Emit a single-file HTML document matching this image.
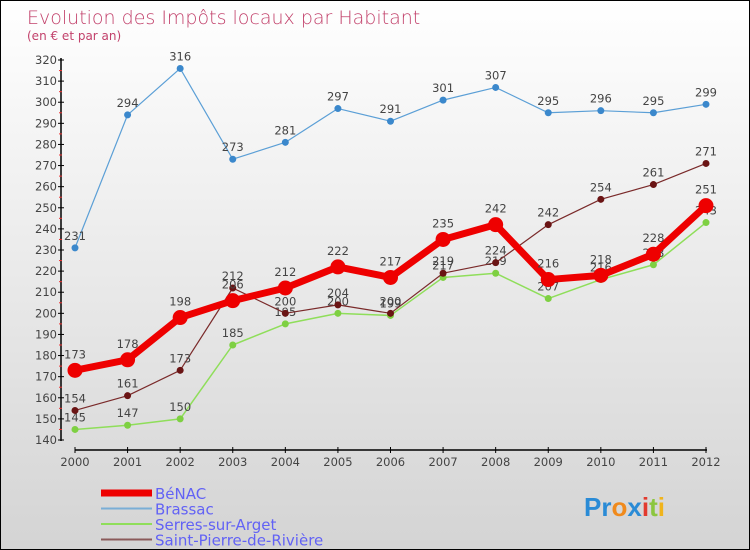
<!DOCTYPE html>
<html><head><meta charset="utf-8">
<style>
body{margin:0}
#c{position:relative;width:748px;height:548px;border:1px solid #000;background:linear-gradient(#ffffff,#d4d4d4);overflow:hidden;font-family:"DejaVu Sans","Liberation Sans",sans-serif}
</style></head><body>
<div id="c">
<svg id="s" width="748" height="548" xmlns="http://www.w3.org/2000/svg">
<text x="26" y="23" font-size="19" fill="#c2416b" font-weight="300">Evolution des Impôts locaux par Habitant</text>
<text x="26" y="39" font-size="12" fill="#c2416b">(en € et par an)</text>
<g id="axes"></g><g id="series"></g><g id="legend"></g>
<g font-size="26" font-weight="bold" font-family="Liberation Sans,sans-serif">
<text x="583" y="515"><tspan fill="#2a8bd6">Pr</tspan><tspan fill="#f08a1c">o</tspan><tspan fill="#2a8bd6">x</tspan><tspan fill="#e23a2e">i</tspan><tspan fill="#8cc63f">t</tspan><tspan fill="#f0b41c">i</tspan></text>
</g>
</svg>
</div>
<script>
const years=[2000,2001,2002,2003,2004,2005,2006,2007,2008,2009,2010,2011,2012];
const benac=[173,178,198,206,212,222,217,235,242,216,218,228,251];
const brassac=[231,294,316,273,281,297,291,301,307,295,296,295,299];
const serres=[145,147,150,185,195,200,199,217,219,207,216,223,243];
const stpierre=[154,161,173,212,200,204,200,219,224,242,254,261,271];
const yTicks=[140,150,160,170,180,190,200,210,220,230,240,250,260,270,280,290,300,310,320];
const NS="http://www.w3.org/2000/svg";
const X=i=>74+i*(705-74)/(years.length-1);
const Y=v=>439-(v-140)*(439-59)/(320-140);
function mk(tag,attrs,parent){const e=document.createElementNS(NS,tag);for(const k in attrs)e.setAttribute(k,attrs[k]);parent.appendChild(e);return e;}
const ax=document.getElementById('axes');
let l=mk('line',{x1:60,y1:57,x2:60,y2:440,stroke:'#000','stroke-width':1.5},ax);


l=mk('line',{x1:74,y1:449,x2:706,y2:449,stroke:'#000','stroke-width':1.5},ax);


yTicks.forEach((v,i)=>{
 mk('line',{x1:57,y1:Y(v),x2:63,y2:Y(v),stroke:'#000'},ax);
 if(i<yTicks.length-1) mk('line',{x1:58,y1:Y(v+5),x2:61,y2:Y(v+5),stroke:'#e33'},ax);
 const t=mk('text',{x:56,y:Y(v)+4,'text-anchor':'end','font-size':11.5,fill:'#444'},ax);t.textContent=v;
 
 
});
years.forEach((y,i)=>{
 mk('line',{x1:X(i),y1:446,x2:X(i),y2:452,stroke:'#000'},ax);
 const t=mk('text',{x:X(i),y:465,'text-anchor':'middle','font-size':11.5,fill:'#444'},ax);t.textContent=y;
 
 
});
const sg=document.getElementById('series');
const defs=[
 {name:'brassac',d:brassac,c:'#5b9fd6',w:1.2,r:3.5,fill:'#3b88cc'},
 {name:'serres',d:serres,c:'#8fde5a',w:1.5,r:3.5,fill:'#7ed042'},
 {name:'stpierre',d:stpierre,c:'#7a2a2a',w:1.2,r:3.5,fill:'#6a1414'},
 {name:'benac',d:benac,c:'#ee0000',w:7,r:7.5,fill:'#ee0000'}];
defs.forEach(s=>{
 const g=mk('g',{},sg);
 
 
 const pl=mk('polyline',{points:s.d.map((v,i)=>X(i)+','+Y(v)).join(' '),fill:'none',stroke:s.c,'stroke-width':s.w,'stroke-linejoin':'round'},g);
 
 
 s.d.forEach((v,i)=>{
  const c=mk('circle',{cx:X(i),cy:Y(v),r:s.r,fill:s.fill},g);
  
  
  const t=mk('text',{x:X(i),y:Y(v)-8-(s.name==='benac'?4:0),'text-anchor':'middle','font-size':11.5,fill:'#444'},g);t.textContent=v;
  
  
 });
});
const lg=document.getElementById('legend');
const items=[['BéNAC','#ee0000',7],['Brassac','#7aaed6',2],['Serres-sur-Arget','#8fde5a',2],['Saint-Pierre-de-Rivière','#8a5a5a',2]];
items.forEach((it,i)=>{
 const y=492+i*15.5;
 const g=mk('g',{},lg);
 
 
 mk('line',{x1:100,y1:y,x2:151,y2:y,stroke:it[1],'stroke-width':it[2]},g);
 const t=mk('text',{x:154,y:y+6,'font-size':15,fill:'#6262f5'},g);t.textContent=it[0];
});
</script>
</body></html>
